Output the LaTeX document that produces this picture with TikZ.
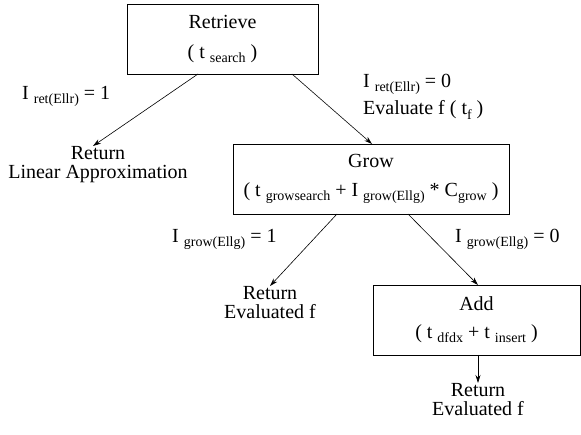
\documentclass[tikz,border=0pt]{standalone}
\usepackage{fontspec}
\setmainfont{Liberation Serif}
\usetikzlibrary{arrows.meta}
\newcommand\sbx[1]{\raisebox{-0.45ex}{\fontsize{14}{14}\selectfont #1}}
\begin{document}
\begin{tikzpicture}[x=1pt,y=-1pt,
  every node/.style={font=\fontsize{20}{19}\selectfont, inner sep=0pt},
  boxnode/.style={draw, line width=0.8pt, align=center, minimum height=70pt},
  txt/.style={align=center},
  arr/.style={line width=0.6pt, -{Stealth[length=8pt,width=5pt]}}]
\useasboundingbox (0,0) rectangle (581,435);
% boxes
\node[boxnode, minimum width=191pt] (retrieve) at (222.5,39) {Retrieve\\[11pt]( t \sbx{search} )};
\node[boxnode, minimum width=276pt] (grow) at (371,179) {Grow\\[10pt]( t \sbx{growsearch} + I \sbx{grow(Ellg)} * C\sbx{grow} )};
\node[boxnode, minimum width=207pt] (add) at (476.5,320) {Add\\[9pt]( t \sbx{dfdx} + t \sbx{insert} )};
% return nodes
\node[txt, anchor=north] (ret1) at (98,146) {Return\\Linear Approximation};
\node[txt, anchor=north] (ret2) at (270,286) {Return\\Evaluated f};
\node[txt, anchor=north] (ret3) at (478,383) {Return\\Evaluated f};
% labels
\node[anchor=west] (l1) at (22,96) {I \sbx{ret(Ellr)} = 1};
\node[anchor=west] (l2) at (363,84) {I \sbx{ret(Ellr)} = 0};
\node[anchor=west] (l2b) at (363,110) {Evaluate f ( t\sbx{f} )};
\node[anchor=west] (l3) at (172,239) {I \sbx{grow(Ellg)} = 1};
\node[anchor=west] (l4) at (455,239) {I \sbx{grow(Ellg)} = 0};
% connector start points
\coordinate (r1) at (198,74);
\coordinate (r2) at (292,74);
\coordinate (g1) at (337,214);
\coordinate (g2) at (408,214);
\coordinate (a1) at (478,355);
\draw[arr] (r1) -- (ret1.north -| 93,0);
\draw[arr] (r2) -- (372,144) coordinate (gtop);
\draw[arr] (g1) -- (ret2.north);
\draw[arr] (g2) -- (478,285);
\draw[arr] (a1) -- (ret3.north);
\end{tikzpicture}
\end{document}
